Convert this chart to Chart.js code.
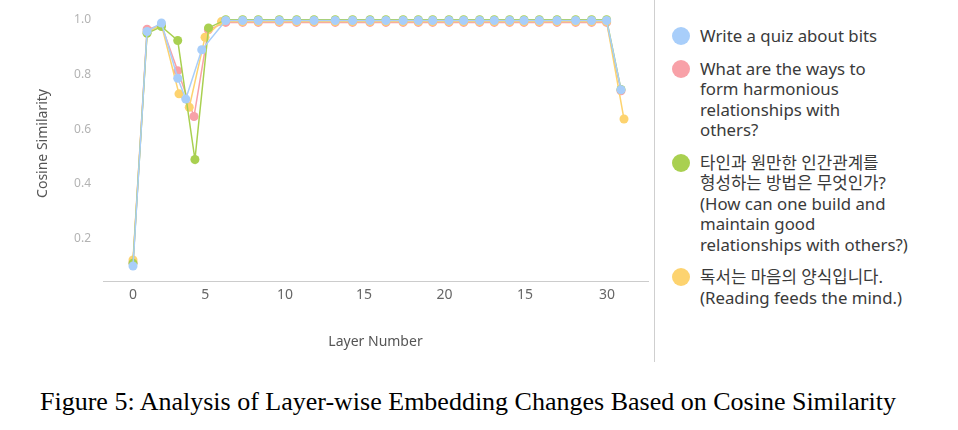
<!DOCTYPE html>
<html>
<head>
<meta charset="utf-8">
<script src="https://cdn.jsdelivr.net/npm/chart.js@4.4.1/dist/chart.umd.min.js"></script>
<style>
  html, body { margin: 0; padding: 0; background: #fff; }
  #page { position: relative; width: 958px; height: 430px; overflow: hidden; }
  #chartBox { position: absolute; left: 0; top: 0; width: 654px; height: 362px; border-right: 1px solid #cfcfcf; }
  #legend { position: absolute; left: 672px; top: 26px; width: 285px;
    font-family: "Noto Sans", "Noto Sans CJK KR", sans-serif; font-size: 16.8px; line-height: 20.5px; color: #3a3a3a; }
  .item { position: relative; padding-left: 28px; margin-bottom: 12px; white-space: nowrap; }
  .dot { position: absolute; left: 0; top: 1.25px; width: 18px; height: 18px; border-radius: 50%; }
  #caption { position: absolute; left: 40px; top: 387px; white-space: nowrap;
    font-family: "Liberation Serif", "Times New Roman", serif; font-size: 26px; line-height: 30px; color: #000; }
</style>
</head>
<body>
<div id="page">
  <div id="chartBox"><canvas id="statsChart" width="654" height="362"></canvas></div>
  <div id="legend"></div>
  <div id="caption">Figure 5: Analysis of Layer-wise Embedding Changes Based on Cosine Similarity</div>
</div>
<script>
// x positions (layer axis units)
const quizX = [0, 0.89, 1.8, 2.83, 3.34, 4.35, 5.87, 6.94, 7.93, 9.26, 10.36, 11.46, 12.8, 13.9, 15.0, 16.01,
  17.1, 18.06, 18.97, 20.0, 20.93, 21.94, 22.87, 23.84, 24.75, 25.72, 26.84, 28.02, 29.03, 29.98, 30.89];
const harmonyX = [0, 0.89, 1.8, 2.83, 3.86, 4.77, 5.87, 6.94, 7.93, 9.26, 10.36, 11.46, 12.8, 13.9, 15.0, 16.01,
  17.1, 18.06, 18.97, 20.0, 20.93, 21.94, 22.87, 23.84, 24.75, 25.72, 26.84, 28.02, 29.03, 29.98, 30.89];
const koreanX = [0, 0.89, 1.8, 2.83, 3.92, 4.78, 5.87, 6.94, 7.93, 9.26, 10.36, 11.46, 12.8, 13.9, 15.0, 16.01,
  17.1, 18.06, 18.97, 20.0, 20.93, 21.94, 22.87, 23.84, 24.75, 25.72, 26.84, 28.02, 29.03, 29.98, 30.89];
const readingX = [0, 0.89, 1.8, 2.91, 3.56, 4.56, 5.6, 6.94, 7.93, 9.26, 10.36, 11.46, 12.8, 13.9, 15.0, 16.01,
  17.1, 18.06, 18.97, 20.0, 20.93, 21.94, 22.87, 23.84, 24.75, 25.72, 26.84, 28.02, 29.03, 29.98, 31.08];

// cosine similarity per layer
const quizY = [0.100, 0.957, 0.988, 0.786, 0.710, 0.890, 0.997, 0.997, 0.997, 0.997, 0.997, 0.997, 0.997, 0.997,
  0.997, 0.997, 0.997, 0.997, 0.997, 0.997, 0.997, 0.997, 0.997, 0.997, 0.997, 0.997, 0.997, 0.997, 0.997, 0.997, 0.744];
const harmonyY = [0.112, 0.965, 0.980, 0.813, 0.646, 0.963, 0.990, 0.990, 0.990, 0.990, 0.990, 0.990, 0.990, 0.990,
  0.990, 0.990, 0.990, 0.990, 0.990, 0.990, 0.990, 0.990, 0.990, 0.990, 0.990, 0.990, 0.990, 0.990, 0.990, 0.990, 0.740];
const koreanY = [0.110, 0.950, 0.975, 0.924, 0.489, 0.970, 1.000, 1.000, 1.000, 1.000, 1.000, 1.000, 1.000, 1.000,
  1.000, 1.000, 1.000, 1.000, 1.000, 1.000, 1.000, 1.000, 1.000, 1.000, 1.000, 1.000, 1.000, 1.000, 1.000, 1.000, 0.745];
const readingY = [0.122, 0.955, 0.981, 0.729, 0.680, 0.936, 0.993, 0.993, 0.993, 0.993, 0.993, 0.993, 0.993, 0.993,
  0.993, 0.993, 0.993, 0.993, 0.993, 0.993, 0.993, 0.993, 0.993, 0.993, 0.993, 0.993, 0.993, 0.993, 0.993, 0.993, 0.637];

const seriesNames = [
  ['Write a quiz about bits'],
  ['What are the ways to', 'form harmonious', 'relationships with', 'others?'],
  ['타인과 원만한 인간관계를', '형성하는 방법은 무엇인가?', '(How can one build and', 'maintain good', 'relationships with others?)'],
  ['독서는 마음의 양식입니다.', '(Reading feeds the mind.)']
];
const seriesColors = ['#a8cefa', '#f8a1a8', '#a9d050', '#fdd36f'];
const drawOrder = [0, 3, 1, 2];

// tick marks as printed in the figure (note the repeated "15")
const xTickPos = [0, 4.58, 9.62, 14.62, 19.72, 24.81, 30];
const xTickLabels = ['0', '5', '10', '15', '20', '15', '30'];
const yTickPos = [0.2, 0.4, 0.6, 0.8, 1.0];

const FONT = '"Noto Sans", "Noto Sans CJK KR", sans-serif';

function buildLegend() {
  const el = document.getElementById('legend');
  seriesNames.forEach((lines, i) => {
    const item = document.createElement('div');
    item.className = 'item';
    const dot = document.createElement('span');
    dot.className = 'dot';
    dot.style.background = seriesColors[i];
    item.appendChild(dot);
    lines.forEach(l => {
      const d = document.createElement('div');
      d.textContent = l;
      item.appendChild(d);
    });
    el.appendChild(item);
  });
}

function noEdgePadding(s) {
  s.paddingTop = 0;
  s.paddingBottom = 0;
  s.paddingLeft = 0;
  s.paddingRight = 0;
}

function renderChart() {
  const xs = [quizX, harmonyX, koreanX, readingX];
  const ys = [quizY, harmonyY, koreanY, readingY];
  const datasets = ys.map((yv, i) => ({
    label: seriesNames[i].join(' '),
    data: yv.map((v, j) => ({ x: xs[i][j], y: v })),
    borderColor: seriesColors[i],
    backgroundColor: seriesColors[i],
    pointBackgroundColor: seriesColors[i],
    pointBorderWidth: 0,
    pointRadius: 4.5,
    borderWidth: 1.5,
    tension: 0,
    fill: false,
    order: drawOrder[i],
  }));

  new Chart(document.getElementById('statsChart'), {
    type: 'line',
    data: { datasets },
    options: {
      responsive: false,
      animation: false,
      layout: { padding: { left: 0, right: 6, top: 6, bottom: 0 } },
      plugins: { legend: { display: false }, tooltip: { enabled: false } },
      scales: {
        x: {
          type: 'linear',
          min: -1.9,
          max: 32.6,
          afterBuildTicks: s => { s.ticks = xTickPos.map(v => ({ value: v })); },
          afterFit: s => { s.height = 81; noEdgePadding(s); },
          grid: { display: false, drawTicks: false },
          border: { display: true, color: '#cccccc', width: 1 },
          ticks: {
            autoSkip: false, maxRotation: 0, padding: 6, color: '#666666',
            font: { family: FONT, size: 14 },
            callback: (v, i) => xTickLabels[i],
          },
          title: { display: true, text: 'Layer Number', color: '#555555',
            font: { family: FONT, size: 14 }, padding: { top: 0, bottom: 12 } },
        },
        y: {
          min: 0.045,
          max: 1.05,
          afterBuildTicks: s => { s.ticks = yTickPos.map(v => ({ value: v })); },
          afterFit: s => { s.width = 103; noEdgePadding(s); },
          grid: { display: false, drawTicks: false },
          border: { display: false },
          ticks: { padding: 12, color: '#b3b3b3', font: { family: FONT, size: 12 },
            callback: v => v.toFixed(1) },
          title: { display: true, text: 'Cosine Similarity', color: '#555555',
            font: { family: FONT, size: 14 }, padding: { top: 35, bottom: 0 } },
        },
      },
    },
  });
}

window.addEventListener('DOMContentLoaded', () => {
  buildLegend();
  renderChart();
});
</script>
</body>
</html>
